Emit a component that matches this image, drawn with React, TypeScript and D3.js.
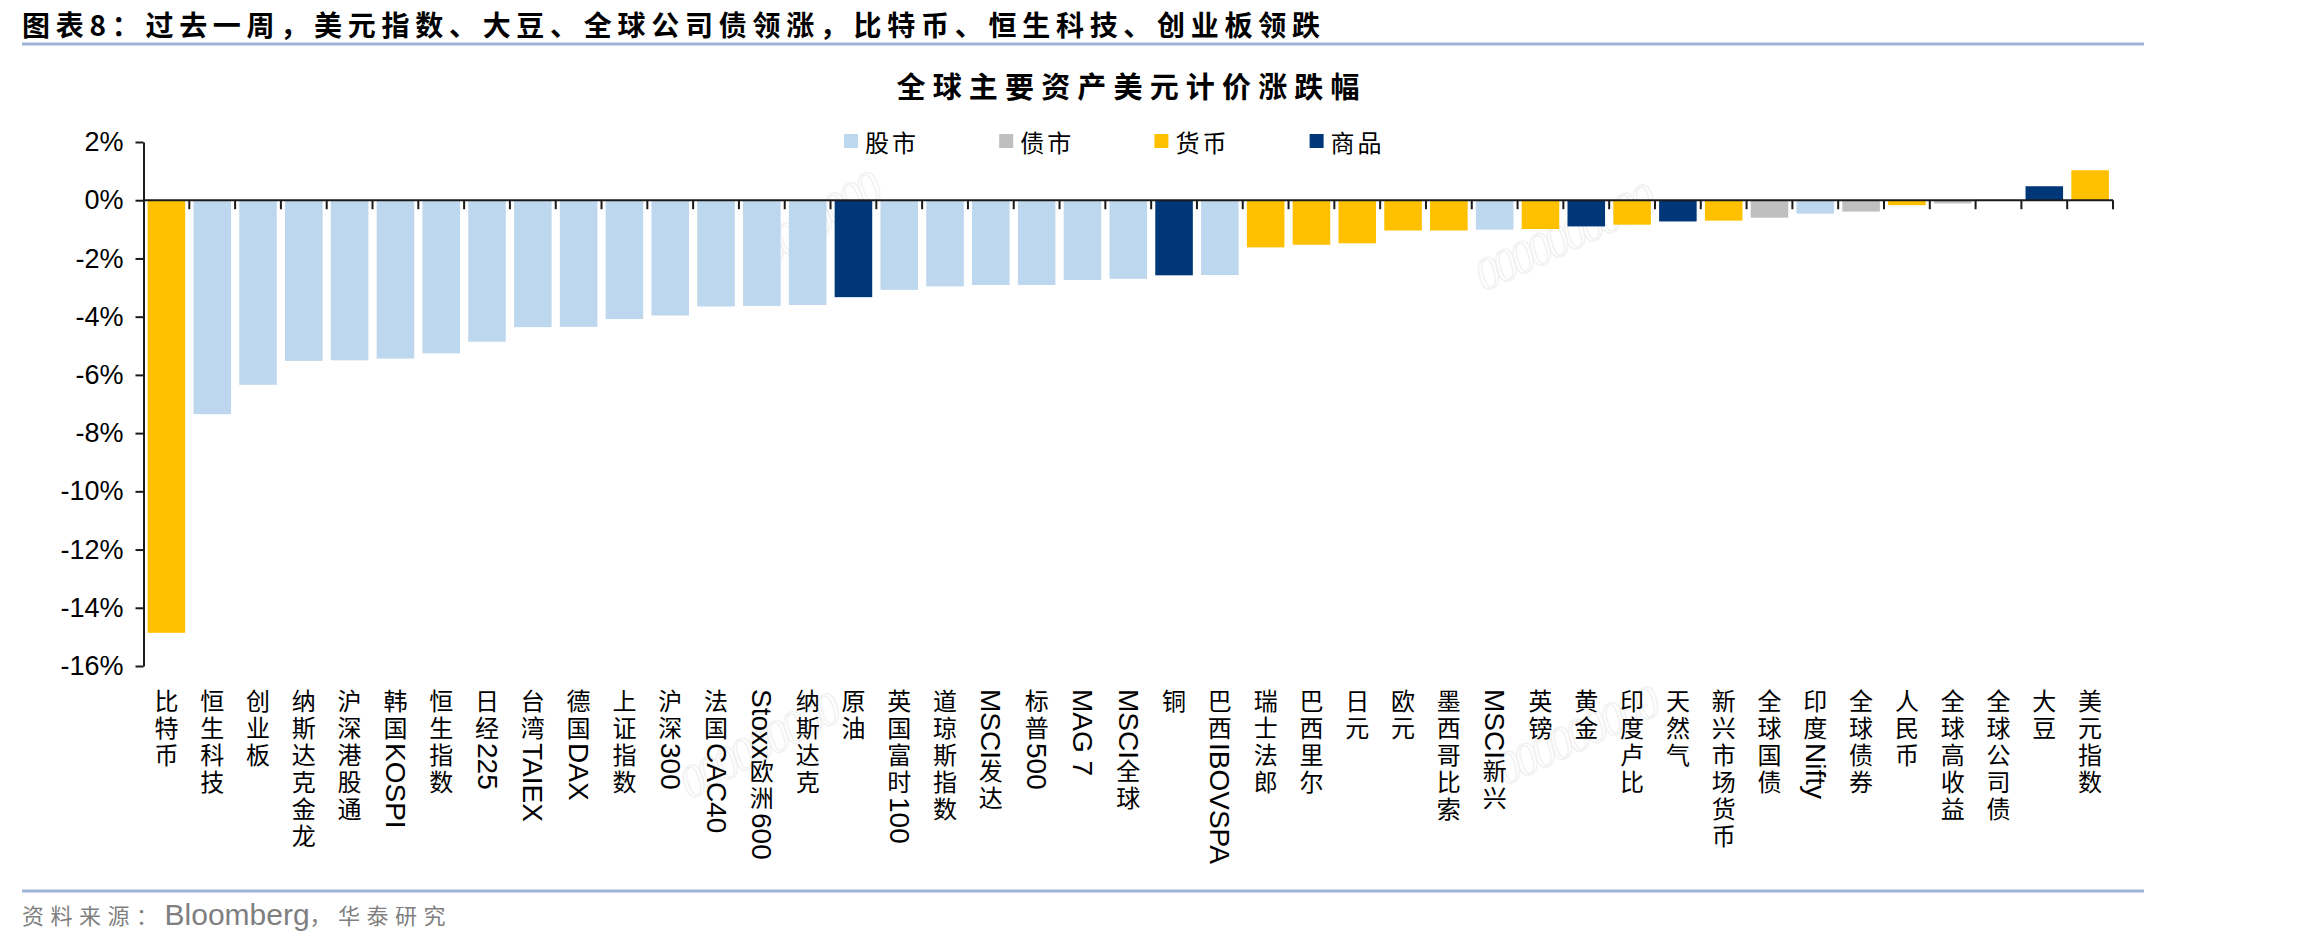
import React, { useRef, useEffect } from "react";
import * as d3 from "d3";

// weekly USD-denominated returns (%) of major assets
const categories = [
  "比特币", "恒生科技", "创业板", "纳斯达克金龙", "沪深港股通", "韩国KOSPI", "恒生指数", "日经225",
  "台湾TAIEX", "德国DAX", "上证指数", "沪深300", "法国CAC40", "Stoxx欧洲600", "纳斯达克", "原油",
  "英国富时100", "道琼斯指数", "MSCI发达", "标普500", "MAG 7", "MSCI全球", "铜", "巴西IBOVSPA",
  "瑞士法郎", "巴西里尔", "日元", "欧元", "墨西哥比索", "MSCI新兴", "英镑", "黄金",
  "印度卢比", "天然气", "新兴市场货币", "全球国债", "印度Nifty", "全球债券", "人民币", "全球高收益",
  "全球公司债", "大豆", "美元指数",
];

const values = [
  -14.86, -7.35, -6.34, -5.52, -5.5, -5.44, -5.26, -4.86,
  -4.36, -4.35, -4.08, -3.96, -3.65, -3.63, -3.6, -3.33,
  -3.08, -2.96, -2.91, -2.91, -2.74, -2.7, -2.58, -2.57,
  -1.62, -1.53, -1.48, -1.04, -1.04, -1.01, -0.99, -0.9,
  -0.84, -0.73, -0.7, -0.6, -0.46, -0.39, -0.17, -0.11,
  0.02, 0.48, 1.03,
];

const assetClass = [
  "货币", "股市", "股市", "股市", "股市", "股市", "股市", "股市",
  "股市", "股市", "股市", "股市", "股市", "股市", "股市", "商品",
  "股市", "股市", "股市", "股市", "股市", "股市", "商品", "股市",
  "货币", "货币", "货币", "货币", "货币", "股市", "货币", "商品",
  "货币", "商品", "货币", "债市", "股市", "债市", "货币", "债市",
  "债市", "商品", "货币",
];

const legendNames = ["股市", "债市", "货币", "商品"];
const legendColors = ["#BDD7EE", "#BFBFBF", "#FFC000", "#003778"];

const yTicks = [2, 0, -2, -4, -6, -8, -10, -12, -14, -16];

const title = "图表8：过去一周，美元指数、大豆、全球公司债领涨，比特币、恒生科技、创业板领跌";
const chartTitle = "全球主要资产美元计价涨跌幅";
const sourceParts = ["资料来源：", "Bloomberg", "，华泰研究"];

// faint "0000" stamps behind the plot: [x, y, angle, count]
const stamps: [number, number, number, number][] = [
  [770, 268, -32, 7],
  [1484, 292, -25, 10],
  [690, 800, -28, 9],
  [1505, 786, -25, 9],
];

const W = 2298;
const H = 947;
const latin = "'Liberation Sans', Arial, sans-serif";
const cjk = "'Noto Sans CJK SC', sans-serif";

const isCjk = (ch: string) => /[\u3000-\u9fff\uff00-\uffef]/.test(ch);

// split a label into runs of CJK / non-CJK characters
const splitRuns = (label: string) => {
  const runs: { text: string; cjk: boolean }[] = [];
  for (const ch of label) {
    const c = isCjk(ch);
    const last = runs[runs.length - 1];
    if (last && last.cjk === c) last.text += ch;
    else runs.push({ text: ch, cjk: c });
  }
  return runs;
};

const App = () => {
  const node: any = useRef();

  useEffect(() => {
    const svg = d3.select(node.current);
    svg.selectAll("*").remove();

    svg.append("rect").attr("width", W).attr("height", H).attr("fill", "#fff");

    const x = d3
      .scaleBand()
      .domain(categories)
      .range([143.5, 2113])
      .paddingInner(0.18)
      .paddingOuter(0.09);

    const y = d3.scaleLinear().domain([-16, 2]).range([666, 142]);
    const colorOf = d3.scaleOrdinal<string, string>().domain(legendNames).range(legendColors);

    // header
    svg
      .append("text")
      .attr("x", 22)
      .attr("y", 24)
      .attr("dominant-baseline", "central")
      .attr("font-family", cjk)
      .attr("font-weight", 700)
      .attr("font-size", 28)
      .attr("textLength", 1298)
      .attr("lengthAdjust", "spacing")
      .text(title);

    svg
      .append("line")
      .attr("x1", 22)
      .attr("x2", 2144)
      .attr("y1", 44)
      .attr("y2", 44)
      .attr("stroke", "#9fb5d8")
      .attr("stroke-width", 3);

    svg
      .append("text")
      .attr("x", 1128)
      .attr("y", 85)
      .attr("text-anchor", "middle")
      .attr("dominant-baseline", "central")
      .attr("font-family", cjk)
      .attr("font-weight", 700)
      .attr("font-size", 29)
      .attr("textLength", 463)
      .attr("lengthAdjust", "spacing")
      .text(chartTitle);

    // watermark stamps
    const stampG = svg.append("g");
    stamps.forEach(([sx, sy, angle, count]) => {
      stampG
        .append("text")
        .attr("transform", `translate(${sx},${sy}) rotate(${angle})`)
        .attr("font-family", "'Liberation Serif', serif")
        .attr("font-style", "italic")
        .attr("font-size", 46)
        .attr("letter-spacing", -4)
        .attr("fill", "none")
        .attr("stroke", "#f0f0f0")
        .attr("stroke-width", 1.2)
        .text("0".repeat(count));
    });

    // legend
    const legend = svg.append("g");
    legendNames.forEach((name, i) => {
      const lx = 844 + i * 155.2;
      legend
        .append("rect")
        .attr("x", lx)
        .attr("y", 134)
        .attr("width", 14)
        .attr("height", 14)
        .attr("fill", legendColors[i]);
      legend
        .append("text")
        .attr("x", lx + 21)
        .attr("y", 141)
        .attr("dominant-baseline", "central")
        .attr("font-family", cjk)
        .attr("font-size", 24)
        .attr("letter-spacing", 3)
        .text(name);
    });

    // bars
    svg
      .append("g")
      .selectAll("rect")
      .data(categories)
      .enter()
      .append("rect")
      .attr("x", (d: string) => x(d) || 0)
      .attr("y", (d: string, i: number) => Math.min(y(0), y(values[i])))
      .attr("width", x.bandwidth())
      .attr("height", (d: string, i: number) => Math.abs(y(values[i]) - y(0)))
      .attr("fill", (d: string, i: number) => colorOf(assetClass[i]));

    // Y axis
    const yAxis = svg
      .append("g")
      .attr("transform", "translate(143.5,0)")
      .call(
        d3
          .axisLeft(y)
          .tickValues(yTicks)
          .tickFormat((d: any) => d + "%")
          .tickSize(8)
          .tickSizeOuter(0)
          .tickPadding(12)
      );
    yAxis.select(".domain").attr("stroke", "#1a1a1a").attr("stroke-width", 2);
    yAxis.selectAll(".tick line").attr("stroke", "#1a1a1a").attr("stroke-width", 2);
    yAxis
      .selectAll(".tick text")
      .attr("font-family", latin)
      .attr("font-size", 27)
      .attr("fill", "#000");

    // zero line with category boundary ticks
    const [x0, x1] = x.range();
    const zero = y(0);
    const axisG = svg.append("g").attr("stroke", "#1a1a1a").attr("stroke-width", 2);
    axisG.append("line").attr("x1", x0).attr("x2", x1).attr("y1", zero).attr("y2", zero);
    axisG
      .selectAll("line.tick")
      .data(d3.range(1, categories.length + 1))
      .enter()
      .append("line")
      .attr("class", "tick")
      .attr("x1", (i: number) => x0 + i * x.step())
      .attr("x2", (i: number) => x0 + i * x.step())
      .attr("y1", zero)
      .attr("y2", zero + 9);

    // vertical category labels
    const labelG = svg.append("g");
    categories.forEach((cat) => {
      const t = labelG
        .append("text")
        .attr("x", (x(cat) || 0) + x.bandwidth() / 2)
        .attr("y", 689)
        .style("writing-mode", "vertical-rl")
        .attr("fill", "#000");
      splitRuns(cat).forEach((run) => {
        t.append("tspan")
          .attr("font-family", run.cjk ? cjk : latin)
          .attr("font-size", run.cjk ? 24 : 28)
          .attr("letter-spacing", run.cjk ? 3 : 0)
          .text(run.text);
      });
    });

    // footer
    svg
      .append("line")
      .attr("x1", 22)
      .attr("x2", 2144)
      .attr("y1", 891)
      .attr("y2", 891)
      .attr("stroke", "#9fb5d8")
      .attr("stroke-width", 3);

    const src = svg
      .append("text")
      .attr("x", 22)
      .attr("y", 914)
      .attr("dominant-baseline", "central")
      .attr("fill", "#7f7f7f");
    sourceParts.forEach((part) => {
      const c = isCjk(part[0]);
      src
        .append("tspan")
        .attr("font-family", c ? cjk : latin)
        .attr("font-size", c ? 22 : 30)
        .attr("letter-spacing", c ? 6.5 : 0)
        .text(part);
    });
  }, []);

  return (
    <svg
      ref={node}
      width={W}
      height={H}
      style={{ position: "absolute", left: 0, top: 0, display: "block" }}
    ></svg>
  );
};

export default App;
